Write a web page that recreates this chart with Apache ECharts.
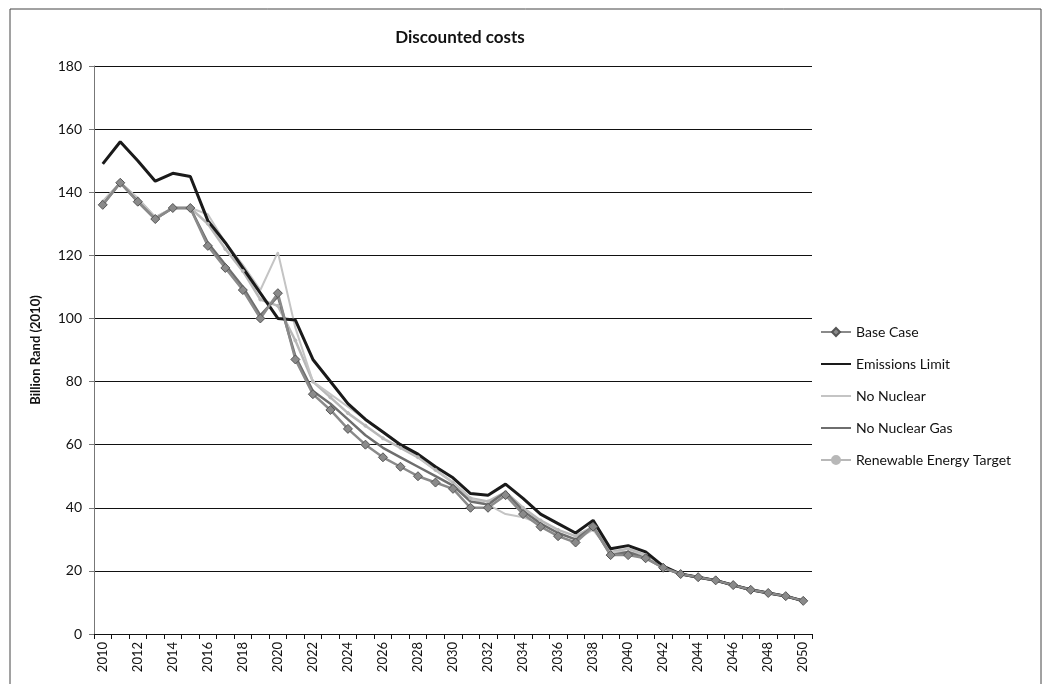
<!DOCTYPE html>
<html>
<head>
<meta charset="utf-8">
<script src="https://cdn.jsdelivr.net/npm/echarts@6/dist/echarts.min.js"></script>
<style>
  html, body { margin: 0; padding: 0; background: #fff; }
  #chart { width: 1045px; height: 684px; }
</style>
</head>
<body>
<div id="chart"></div>
<script>
const years = []
for (let y = 2010; y <= 2050; y++) years.push(String(y))

const baseCase = [136, 143, 137, 131.5, 135, 135, 123, 116, 109, 100, 108, 87, 76, 71, 65, 60, 56, 53, 50, 48, 46, 40, 40, 44, 38, 34, 31, 29, 34, 25, 25, 24, 21, 19, 18, 17, 15.5, 14, 13, 12, 10.5]
const emissionsLimit = [149, 156, 150, 143.5, 146, 145, 131, 124, 116, 108, 100, 99.5, 87, 80, 73, 68, 64, 60, 57, 53, 49.5, 44.5, 44, 47.5, 43, 38, 35, 32, 36, 27, 28, 26, 21.5, 19, 18, 17, 15.5, 14, 13, 12, 10.5]
const noNuclear = [137, 143, 138, 132, 135, 135, 133, 124, 117, 109, 121, 97, 80, 76, 72, 68, 64, 60, 56, 52, 48, 43, 41, 38, 37, 35, 32, 30, 33, 26, 26, 25, 21, 19, 18, 17, 15.5, 14, 13, 12, 10.5]
const noNuclearGas = [136, 143, 137, 131.5, 135, 135, 124, 117, 110, 101, 107, 88, 77, 73, 68, 63, 59, 56, 53, 50, 47, 42, 41, 45, 39, 35, 32, 30, 34, 25, 26, 24, 21, 19, 18, 17, 15.5, 14, 13, 12, 10.5]
const renewableTarget = [137, 143, 138, 132, 135, 135, 130, 122, 115, 106, 104, 93, 80, 75, 70, 66, 62, 59, 56, 52, 48, 43, 42, 45, 40, 36, 33, 31, 34, 26, 27, 25, 21, 19, 18, 17, 15.5, 14, 13, 12, 10.5]

const font = "Lato, 'Open Sans', sans-serif"

const chart = echarts.init(document.getElementById("chart"))

const mkSeries = (name, data, color, width, symbol, size, border) => ({
  name: name,
  type: "line",
  data: data,
  symbol: symbol,
  symbolSize: size,
  showSymbol: symbol !== "none",
  lineStyle: { color: color, width: width },
  itemStyle: { color: color, borderColor: border || color, borderWidth: 1 },
  emphasis: { disabled: true },
  animation: false
})

// legend entries for plain lines: hide the marker, keep the line
const plain = { itemStyle: { opacity: 0 } }

chart.setOption({
  backgroundColor: "#fff",
  title: {
    text: "Discounted costs",
    left: 455,
    top: 24,
    textAlign: "center",
    textStyle: { fontFamily: font, fontSize: 17, fontWeight: "bold", color: "#111" }
  },
  graphic: [{
    type: "rect",
    shape: { x: 10, y: 9, width: 1031, height: 700 },
    style: { fill: "none", stroke: "#444", lineWidth: 1 }
  }],
  legend: {
    orient: "vertical",
    left: 815,
    top: 320,
    itemGap: 18,
    itemWidth: 30,
    itemHeight: 10,
    textStyle: { fontFamily: font, fontSize: 14, color: "#111" },
    data: [
      { name: "Base Case" },
      Object.assign({ name: "Emissions Limit" }, plain),
      Object.assign({ name: "No Nuclear" }, plain),
      Object.assign({ name: "No Nuclear Gas" }, plain),
      { name: "Renewable Energy Target" }
    ]
  },
  grid: { left: 94, right: 233, top: 66, bottom: 50 },
  xAxis: {
    type: "category",
    data: years,
    boundaryGap: true,
    axisLine: { lineStyle: { color: "#111", width: 1 } },
    axisTick: { show: true, interval: 0, length: 5, lineStyle: { color: "#111" } },
    axisLabel: {
      interval: 1,
      rotate: 90,
      fontFamily: font,
      fontSize: 13,
      color: "#111",
      margin: 8
    }
  },
  yAxis: {
    type: "value",
    min: 0,
    max: 180,
    interval: 20,
    name: "Billion Rand (2010)",
    nameLocation: "middle",
    nameGap: 52,
    nameTextStyle: { fontFamily: font, fontSize: 13, fontWeight: "bold", color: "#111" },
    axisLine: { show: true, lineStyle: { color: "#777", width: 1 } },
    axisTick: { show: true, length: 5, lineStyle: { color: "#777" } },
    axisLabel: { fontFamily: font, fontSize: 14, color: "#111", margin: 12 },
    splitLine: { lineStyle: { color: "#111", width: 1 } }
  },
  series: [
    mkSeries("Renewable Energy Target", renewableTarget, "#b8b8b8", 2.5, "circle", 3),
    mkSeries("No Nuclear", noNuclear, "#c4c4c4", 2, "none", 0),
    mkSeries("No Nuclear Gas", noNuclearGas, "#6e6e6e", 2.5, "none", 0),
    mkSeries("Emissions Limit", emissionsLimit, "#1a1a1a", 3, "none", 0),
    mkSeries("Base Case", baseCase, "#8a8a8a", 2.5, "diamond", 9, "#555")
  ]
})
</script>
</body>
</html>
